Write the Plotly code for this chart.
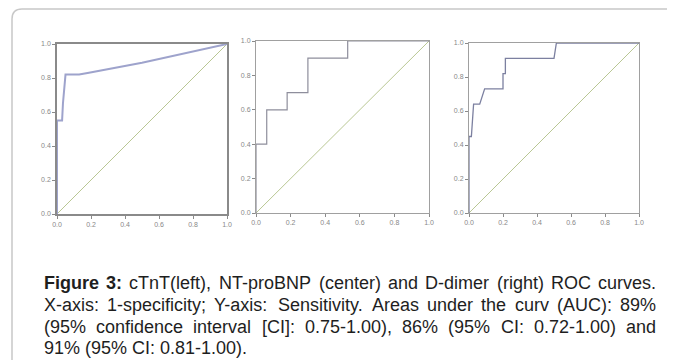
import plotly.graph_objects as go

# ---------------- data ----------------
ctnt_fpr = [0.0, 0.0, 0.03, 0.035, 0.05, 0.13, 0.18, 0.5, 1.0]
ctnt_tpr = [0.0, 0.55, 0.55, 0.65, 0.82, 0.82, 0.83, 0.89, 1.0]

ntprobnp_fpr = [0.0, 0.0, 0.062, 0.062, 0.18, 0.18, 0.30, 0.30, 0.53, 0.53, 1.0]
ntprobnp_tpr = [0.0, 0.40, 0.40, 0.60, 0.60, 0.70, 0.70, 0.90, 0.90, 1.0, 1.0]

ddimer_fpr = [0.0, 0.0, 0.014, 0.02, 0.027, 0.063, 0.092, 0.20, 0.20, 0.214, 0.214, 0.50, 0.514, 1.0]
ddimer_tpr = [0.0, 0.45, 0.45, 0.55, 0.64, 0.64, 0.73, 0.73, 0.82, 0.82, 0.91, 0.91, 1.0, 1.0]

ref_x = [0.0, 1.0]
ref_y = [0.0, 1.0]

tick_vals = [0.0, 0.2, 0.4, 0.6, 0.8, 1.0]
tick_text = ["0.0", "0.2", "0.4", "0.6", "0.8", "1.0"]

caption_lines = [
    "Figure 3: cTnT(left), NT-proBNP (center) and D-dimer (right) ROC curves.",
    "X-axis: 1-specificity; Y-axis: Sensitivity. Areas under the curv (AUC): 89%",
    "(95% confidence interval [CI]: 0.75-1.00), 86% (95% CI: 0.72-1.00) and",
    "91% (95% CI: 0.81-1.00).",
]
bold_words = ["Figure", "3:"]

# ---------------- layout helpers ----------------
# the page body has an 8px margin, so the figure starts at (8, 8) in the window
OFF = 8
W, H = 675 - OFF, 360 - OFF


def px(x):
    return (x - OFF) / W


def py(y):
    return 1 - (y - OFF) / H


panels = [
    dict(fpr=ctnt_fpr, tpr=ctnt_tpr, box=(57, 44, 227, 214), color="#9ea3cc", lw=2.0,
         frame="#8a8a8a", fw=1.5),
    dict(fpr=ntprobnp_fpr, tpr=ntprobnp_tpr, box=(256, 41, 429, 213), color="#8e8e9c", lw=1.2,
         frame="#a0a0a0", fw=1.0),
    dict(fpr=ddimer_fpr, tpr=ddimer_tpr, box=(469, 43, 639, 213), color="#7c80a0", lw=1.3,
         frame="#a0a0a0", fw=1.0),
]

fig = go.Figure()

for i, p in enumerate(panels):
    n = "" if i == 0 else str(i + 1)
    xa, ya = "x" + n, "y" + n
    fig.add_trace(go.Scatter(x=ref_x, y=ref_y, mode="lines", xaxis=xa, yaxis=ya,
                             line=dict(color="#b9c794", width=1), showlegend=False,
                             hoverinfo="skip"))
    fig.add_trace(go.Scatter(x=p["fpr"], y=p["tpr"], mode="lines", xaxis=xa, yaxis=ya,
                             line=dict(color=p["color"], width=p["lw"]), showlegend=False))
    x0, y0, x1, y1 = p["box"]
    common = dict(range=[0, 1], tickvals=tick_vals, ticktext=tick_text, ticks="outside",
                  ticklen=3, tickwidth=1, tickcolor="#8a8a8a", showline=True, mirror=True,
                  linecolor=p["frame"], linewidth=p["fw"], showgrid=False, zeroline=False,
                  tickfont=dict(size=7, color="#888888", family="Liberation Sans, Arial"),
                  automargin=False, fixedrange=True)
    fig.layout["xaxis" + n] = dict(domain=[px(x0), px(x1)], anchor=ya, **common)
    fig.layout["yaxis" + n] = dict(domain=[py(y1), py(y0)], anchor=xa, **common)

# ---------------- caption (justified, word by word) ----------------
REG = {' ': 278, '!': 278, '%': 889, '(': 333, ')': 333, ',': 278, '-': 333, '.': 278,
       ':': 278, ';': 278, '[': 278, ']': 278,
       'A': 667, 'B': 667, 'C': 722, 'D': 722, 'E': 667, 'F': 611, 'I': 278, 'N': 722,
       'O': 778, 'P': 667, 'R': 722, 'S': 667, 'T': 611, 'U': 722, 'X': 667, 'Y': 667,
       'a': 556, 'b': 556, 'c': 500, 'd': 556, 'e': 556, 'f': 278, 'g': 556, 'h': 556,
       'i': 222, 'j': 222, 'k': 500, 'l': 222, 'm': 833, 'n': 556, 'o': 556, 'p': 556,
       'q': 556, 'r': 333, 's': 500, 't': 278, 'u': 556, 'v': 500, 'w': 722, 'x': 500,
       'y': 500, 'z': 500}
for d in "0123456789":
    REG[d] = 556
BOLD = dict(REG)
BOLD.update({'F': 611, 'i': 278, 'g': 611, 'u': 611, 'r': 389, 'e': 556, ':': 333})

FS = 18
LEFT, RIGHT = 43, 655
baselines = [289, 311, 333, 354]


def wwidth(word, bold):
    tbl = BOLD if bold else REG
    return sum(tbl.get(c, 556) for c in word) * FS / 1000.0


annotations = []
for li, line in enumerate(caption_lines):
    words = line.split(" ")
    widths = [wwidth(w, w in bold_words and li == 0) for w in words]
    last = li == len(caption_lines) - 1
    if last or len(words) < 2:
        gap = REG[' '] * FS / 1000.0
    else:
        gap = (RIGHT - LEFT - sum(widths)) / (len(words) - 1)
    x = LEFT
    for w, wd in zip(words, widths):
        bold = (w in bold_words and li == 0)
        annotations.append(dict(
            x=px(x - 1), y=py(baselines[li] - 6), xref="paper", yref="paper",
            xanchor="left", yanchor="middle", showarrow=False,
            text=("<b>%s</b>" % w) if bold else w,
            font=dict(size=FS, color="#1e1e1e", family="Liberation Sans, Arial"),
        ))
        x += wd + gap

# ---------------- outer rounded frame ----------------
r = 10
frame_path = "M {a},{b} L {a},{c} Q {a},{d} {e},{d} L {f},{d}".format(
    a=px(12), b=py(372), c=py(9 + r), d=py(9), e=px(12 + r), f=px(690))

fig.update_layout(
    width=W, height=H, margin=dict(l=0, r=0, t=0, b=0),
    paper_bgcolor="white", plot_bgcolor="white", template="none",
    annotations=annotations,
    shapes=[dict(type="path", xref="paper", yref="paper", path=frame_path,
                 line=dict(color="#c8c8c8", width=1.5))],
)

fig.write_html("out.html")
